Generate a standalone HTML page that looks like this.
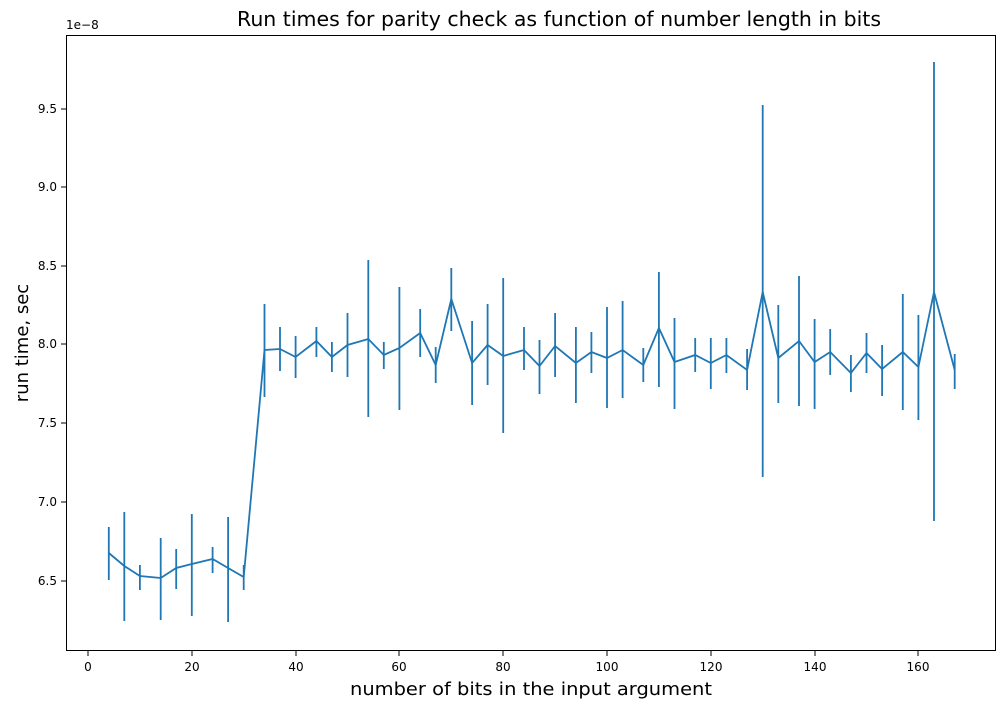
<!DOCTYPE html>
<html><head><style>body{margin:0;background:#fff}svg{display:block}text{font-family:"DejaVu Sans","Liberation Sans",sans-serif}</style></head>
<body>
<svg width="1006" height="708" xmlns="http://www.w3.org/2000/svg">
<rect width="1006" height="708" fill="#fff"/>
<text x="237" y="26" font-size="20" textLength="644" lengthAdjust="spacingAndGlyphs">Run times for parity check as function of number length in bits</text>
<rect x="66.5" y="35.5" width="929" height="615" fill="none" stroke="#000" stroke-width="1"/>
<g stroke="#000">
<line x1="88" y1="651" x2="88" y2="656"/><line x1="192" y1="651" x2="192" y2="656"/><line x1="296" y1="651" x2="296" y2="656"/><line x1="399" y1="651" x2="399" y2="656"/><line x1="503" y1="651" x2="503" y2="656"/><line x1="607" y1="651" x2="607" y2="656"/><line x1="711" y1="651" x2="711" y2="656"/><line x1="815" y1="651" x2="815" y2="656"/><line x1="918" y1="651" x2="918" y2="656"/>
<line x1="61" y1="581" x2="66" y2="581"/><line x1="61" y1="502" x2="66" y2="502"/><line x1="61" y1="423" x2="66" y2="423"/><line x1="61" y1="344" x2="66" y2="344"/><line x1="61" y1="266" x2="66" y2="266"/><line x1="61" y1="187" x2="66" y2="187"/><line x1="61" y1="109" x2="66" y2="109"/>
</g>
<g font-size="12" text-anchor="middle">
<text x="88" y="671">0</text><text x="192" y="671">20</text><text x="296" y="671">40</text><text x="399" y="671">60</text><text x="503" y="671">80</text><text x="607" y="671">100</text><text x="711" y="671">120</text><text x="815" y="671">140</text><text x="918" y="671">160</text>
</g>
<g font-size="12" text-anchor="end">
<text x="57" y="585">6.5</text><text x="57" y="506">7.0</text><text x="57" y="427">7.5</text><text x="57" y="348">8.0</text><text x="57" y="270">8.5</text><text x="57" y="191">9.0</text><text x="57" y="113">9.5</text>
</g>
<text x="66" y="29" font-size="12">1e−8</text>
<text x="350" y="695" font-size="18" textLength="362" lengthAdjust="spacingAndGlyphs">number of bits in the input argument</text>
<text transform="translate(28,343) rotate(-90)" font-size="18" text-anchor="middle">run time, sec</text>
<g stroke="#1f77b4" stroke-width="1.8" fill="none">
<path d="M108.8,527V580M124.3,512V621M139.9,565V590M160.7,538V620M176.2,549V589M191.8,514V616M212.6,547V573M228.1,517V622M243.7,565V590M264.5,304V397M280,327V371M295.6,336V378M316.4,327V357M331.9,342V372M347.5,313V377M368.3,260V417M383.8,342V369M399.4,287V410M420.2,309V357M435.7,347V383M451.3,268V331M472.1,321V405M487.6,304V385M503.2,278V433M524,327V370M539.5,340V394M555.1,313V377M575.9,327V403M591.4,332V373M607,307V408M622.6,301V398M643.3,348V382M658.9,272V387M674.5,318V409M695.2,338V372M710.8,338V389M726.4,338V373M747.1,349V390M762.7,105V477M778.3,305V403M799,276V406M814.6,319V409M830.2,329V375M850.9,355V392M866.5,333V373M882.1,345V396M902.8,294V410M918.4,315V420M934,62V521M954.7,354V389"/>
<path d="M108.8,553L124.3,566L139.9,576L160.7,578L176.2,568L191.8,564L212.6,559L228.1,568L243.7,577L264.5,350L280,349L295.6,357L316.4,341L331.9,357L347.5,345L368.3,339L383.8,355L399.4,348L420.2,333L435.7,365L451.3,299L472.1,363L487.6,345L503.2,356L524,350L539.5,366L555.1,346L575.9,363L591.4,352L607,358L622.6,350L643.3,365L658.9,328L674.5,362L695.2,355L710.8,363L726.4,355L747.1,370L762.7,292L778.3,358L799,341L814.6,362L830.2,352L850.9,373L866.5,353L882.1,369L902.8,352L918.4,367L934,292L954.7,370"/>
</g>
</svg>
</body></html>
